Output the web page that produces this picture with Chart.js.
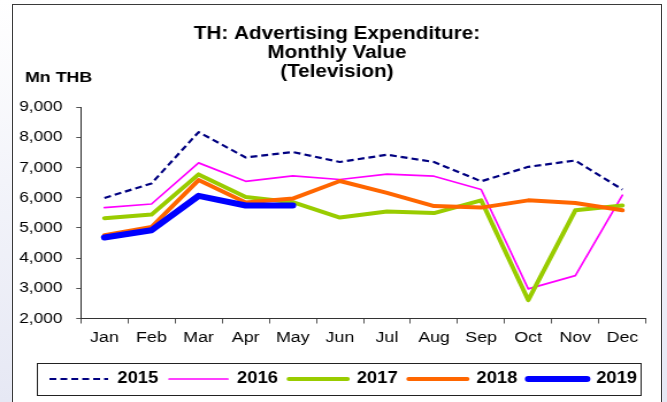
<!DOCTYPE html>
<html>
<head>
<meta charset="utf-8">
<script src="https://cdn.jsdelivr.net/npm/chart.js@4/dist/chart.umd.min.js"></script>
<style>
  html, body { margin: 0; padding: 0; background: #fff; }
  #wrap { position: relative; width: 667px; height: 402px; overflow: hidden;
          background: linear-gradient(to bottom, #ffffff 0%, #f3f4fa 45%, #e6e8f4 100%); }
  #frame { position: absolute; left: 12px; top: 4px; width: 648px; height: 430px;
           border: 1px solid #3a3a3a; background: #fff; }
  #chart { position: absolute; left: 0; top: 0; transform: scaleX(1.15); transform-origin: 0 0; }
</style>
</head>
<body>
<div id="wrap">
  <div id="frame"></div>
  <canvas id="chart" width="580" height="402"></canvas>
</div>
<script>
// --- data ---
const months = ['Jan', 'Feb', 'Mar', 'Apr', 'May', 'Jun', 'Jul', 'Aug', 'Sep', 'Oct', 'Nov', 'Dec'];
const years = ['2015', '2016', '2017', '2018', '2019'];
const v2015 = [5990, 6470, 8170, 7330, 7510, 7180, 7420, 7180, 6540, 7020, 7230, 6270];
const v2016 = [5670, 5790, 7150, 6540, 6720, 6600, 6780, 6710, 6270, 2980, 3420, 6080];
const v2017 = [5320, 5440, 6770, 6020, 5850, 5340, 5540, 5490, 5910, 2610, 5580, 5740];
const v2018 = [4760, 5030, 6580, 5840, 5970, 6550, 6160, 5720, 5670, 5910, 5820, 5580];
const v2019 = [4680, 4920, 6060, 5740, 5740];
const titleLines = ['TH: Advertising Expenditure:', 'Monthly Value', '(Television)'];
const unitLabel = 'Mn THB';
const yMin = 2000, yMax = 9000, yStep = 1000;

const FONT = '"Liberation Sans", Arial, sans-serif';
const LEGEND_SHIFT = 5.5;

// axis label + legend frame
const extras = {
    id: 'extras',
    afterLayout(chart) {
        const lg = chart.legend;
        lg.left += LEGEND_SHIFT;
        lg.right += LEGEND_SHIFT;
        // let the y tick labels use the space left of the axis box (no clipping)
        chart.scales.y.left = 0;
    },
    afterDraw(chart) {
        const ctx = chart.ctx;
        ctx.save();
        ctx.font = 'bold 15.5px ' + FONT;
        ctx.fillStyle = '#000';
        ctx.textBaseline = 'alphabetic';
        ctx.textAlign = 'left';
        ctx.fillText(unitLabel, 21.7, 82.3);

        const hb = chart.legend.legendHitBoxes;
        if (hb && hb.length) {
            const first = hb[0], last = hb[hb.length - 1];
            const x0 = first.left - 11;
            const x1 = last.left + last.width + 3;
            const midY = first.top + first.height / 2;
            ctx.strokeStyle = '#222';
            ctx.lineWidth = 1;
            ctx.strokeRect(Math.round(x0) + 0.5, Math.round(midY - 16) + 0.5, Math.round(x1 - x0), 32);
        }
        ctx.restore();
    }
};

new Chart(document.getElementById('chart').getContext('2d'), {
    type: 'line',
    data: {
        labels: months,
        datasets: [
            { label: years[0], data: v2015, borderColor: '#000080', backgroundColor: '#000080',
              borderWidth: 2.2, borderDash: [6, 3.5], borderCapStyle: 'butt', order: 4 },
            { label: years[1], data: v2016, borderColor: '#ff00ff', backgroundColor: '#ff00ff',
              borderWidth: 1.7, borderCapStyle: 'round', order: 3 },
            { label: years[2], data: v2017, borderColor: '#99cc00', backgroundColor: '#99cc00',
              borderWidth: 4, borderCapStyle: 'round', order: 2 },
            { label: years[3], data: v2018, borderColor: '#ff6600', backgroundColor: '#ff6600',
              borderWidth: 4, borderCapStyle: 'round', order: 1 },
            { label: years[4], data: v2019, borderColor: '#0000ff', backgroundColor: '#0000ff',
              borderWidth: 6, borderCapStyle: 'round', order: 0 }
        ]
    },
    options: {
        responsive: false,
        animation: false,
        elements: {
            point: { radius: 0, hoverRadius: 0 },
            line: { tension: 0, fill: false, borderJoinStyle: 'round' }
        },
        layout: { padding: { left: 24.3, right: 18.3, top: 0, bottom: 5 } },
        scales: {
            x: {
                offset: true,
                grid: { offset: true, drawOnChartArea: false, drawTicks: true, tickLength: 5, color: '#555' },
                border: { display: true, color: '#333', width: 1 },
                ticks: { color: '#000', padding: 5, maxRotation: 0, autoSkip: false,
                         font: { family: FONT, size: 15.5 } },
                afterFit: function(s) { s.height = 43; }
            },
            y: {
                min: yMin,
                max: yMax,
                grid: { drawOnChartArea: false, drawTicks: true, tickLength: 4, color: '#555' },
                border: { display: true, color: '#333', width: 1 },
                ticks: {
                    stepSize: yStep,
                    color: '#000',
                    padding: 12,
                    font: { family: FONT, size: 15 },
                    callback: function(v) { return Number(v).toLocaleString('en-US'); }
                },
                afterFit: function(s) { s.width = 46; }
            }
        },
        plugins: {
            title: {
                display: true,
                text: titleLines,
                color: '#000',
                font: { family: FONT, size: 18, weight: 'bold', lineHeight: 19 / 18 },
                padding: { top: 24.5, bottom: 25.5 }
            },
            legend: {
                display: true,
                position: 'bottom',
                labels: {
                    usePointStyle: true,
                    pointStyle: 'line',
                    pointStyleWidth: 51,
                    padding: 9.5,
                    color: '#000',
                    font: { family: FONT, size: 16, weight: 'bold' },
                    sort: function(a, b) { return a.datasetIndex - b.datasetIndex; },
                    // legend samples take dash / width / cap from the line itself
                    generateLabels: function(chart) {
                        const items = Chart.defaults.plugins.legend.labels.generateLabels(chart);
                        items.forEach(function(it) {
                            const ds = chart.data.datasets[it.datasetIndex];
                            it.lineDash = ds.borderDash || [];
                            it.lineWidth = ds.borderWidth;
                            it.lineCap = ds.borderCapStyle || 'butt';
                            it.strokeStyle = ds.borderColor;
                        });
                        return items;
                    }
                }
            },
            tooltip: { enabled: false }
        }
    },
    plugins: [extras]
});
</script>
</body>
</html>
